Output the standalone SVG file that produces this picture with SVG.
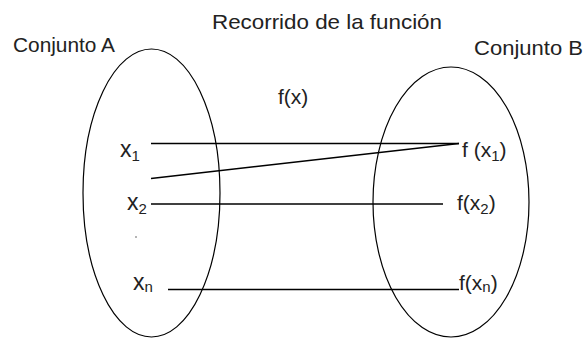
<svg xmlns="http://www.w3.org/2000/svg" width="588" height="338" viewBox="0 0 588 338">
<style>
.t{font-family:"Liberation Sans",Arial,sans-serif;font-size:21px;fill:#222}
.x{font-size:23px}
.s{font-size:15px}
.e{fill:none;stroke:#000;stroke-width:1.2}
.c{stroke:#000;stroke-width:1.4;fill:none}
</style>
<rect width="588" height="338" fill="#fff"/>
<text id="title" class="t" x="212" y="29" textLength="230" lengthAdjust="spacingAndGlyphs">Recorrido de la función</text>
<g id="setA">
<ellipse class="e" cx="151.5" cy="193" rx="68.5" ry="144"/>
<text class="t" x="13" y="52" textLength="102" lengthAdjust="spacingAndGlyphs">Conjunto A</text>
</g>
<g id="setB">
<ellipse class="e" cx="451" cy="202" rx="78" ry="135"/>
<text class="t" x="474" y="55" textLength="109" lengthAdjust="spacingAndGlyphs">Conjunto B</text>
</g>
<text id="fx" class="t" x="278" y="104">f(x)</text>
<g id="x1"><text class="t x" x="120" y="157">x<tspan class="s" dy="4">1</tspan></text></g>
<g id="x2"><text class="t x" x="127" y="210">x<tspan class="s" dy="4">2</tspan></text></g>
<g id="dot"><circle cx="136" cy="237" r="0.7" fill="#333"/></g>
<g id="xn"><text class="t x" x="133" y="290">x<tspan class="s" dy="2">n</tspan></text></g>
<g id="fx1"><text class="t" x="462" y="157">f (x<tspan class="s" dy="4">1</tspan><tspan dy="-4">)</tspan></text></g>
<g id="fx2"><text class="t" x="457" y="210">f(x<tspan class="s" dy="4">2</tspan><tspan dy="-4">)</tspan></text></g>
<g id="fxn"><text class="t" x="459" y="290">f(x<tspan class="s" dy="2">n</tspan><tspan dy="-2">)</tspan></text></g>
<g id="connectors">
<line class="c" x1="151" y1="143.5" x2="459" y2="143.5"/>
<line class="c" x1="151" y1="178.5" x2="459" y2="143.5"/>
<line class="c" x1="151" y1="204" x2="443" y2="204"/>
<line class="c" x1="168" y1="289.5" x2="459" y2="289.5"/>
</g>
</svg>
